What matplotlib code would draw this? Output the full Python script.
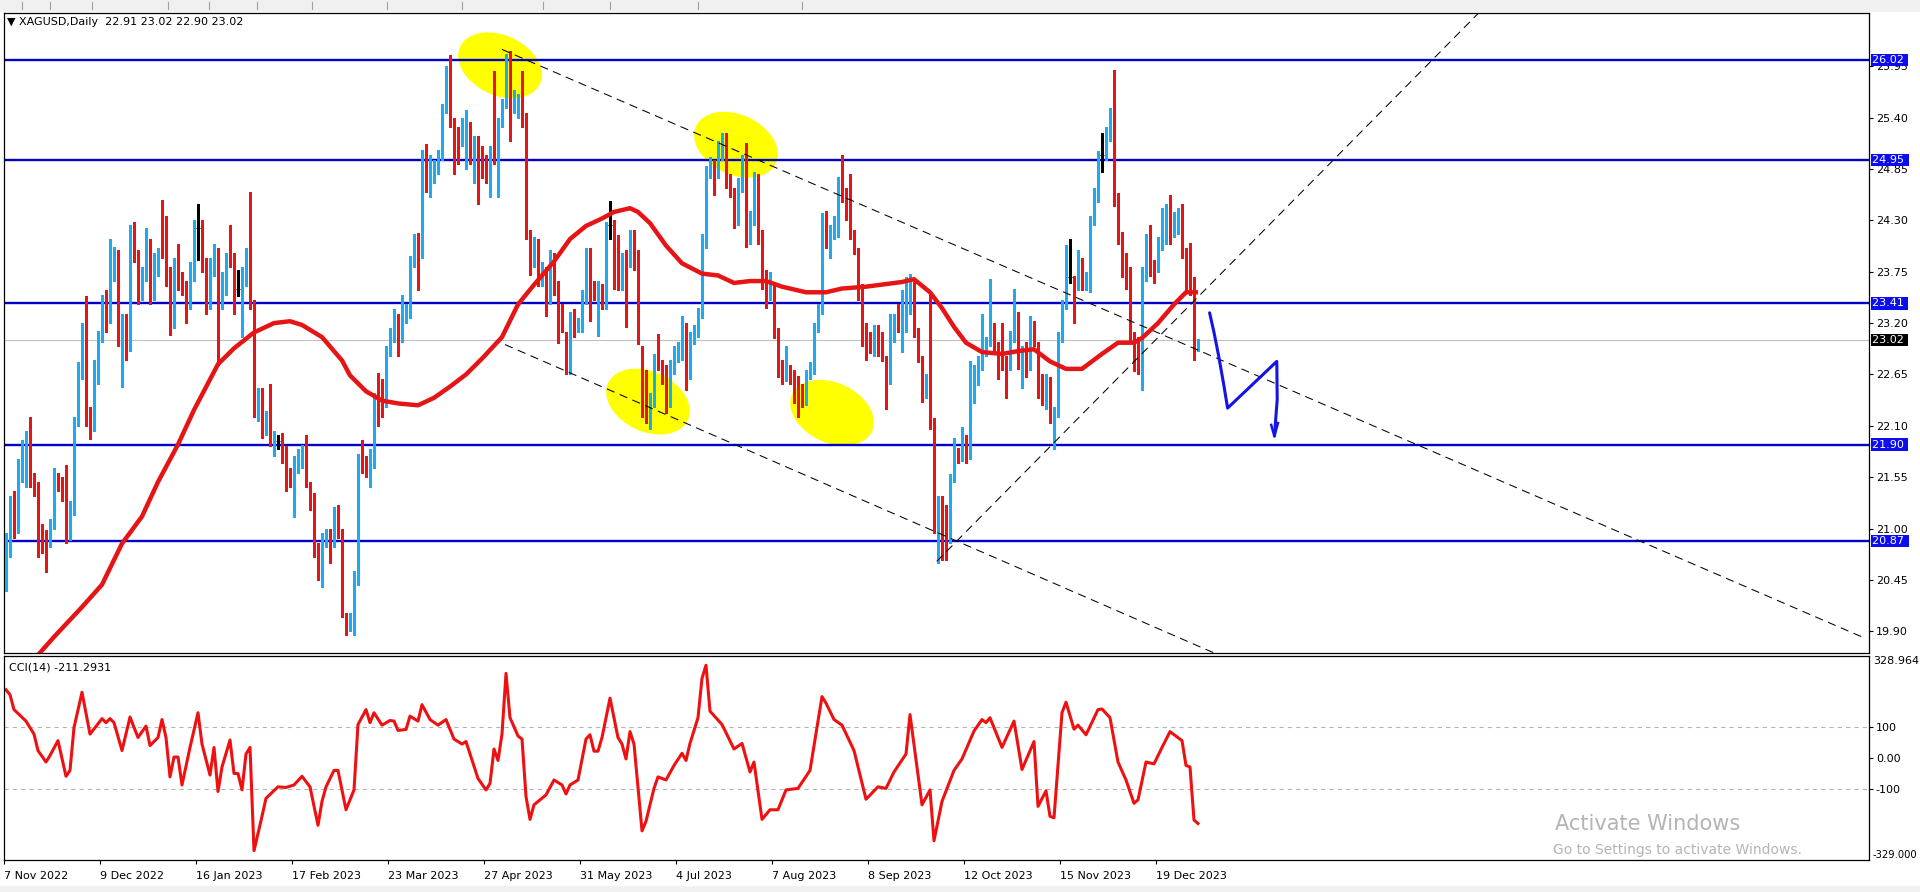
import numpy as np
import matplotlib.pyplot as plt
from matplotlib.patches import Ellipse, Rectangle
from matplotlib import transforms

plt.rcParams['font.family'] = ['DejaVu Sans']
plt.rcParams['lines.scale_dashes'] = False

# daily XAGUSD candles, bar 0 = 7 Nov 2022
opens = [
    20.55, 20.80, 21.30, 20.98, 21.60, 21.55, 21.97, 21.52, 21.46, 20.92,
    20.90, 20.85, 21.05, 21.48, 21.46, 21.40, 20.92, 21.19, 22.17, 22.70,
    23.06, 22.20, 22.13, 22.71, 23.06, 23.40, 23.28, 23.73, 23.90, 23.04,
    23.16, 22.93, 24.12, 23.92, 23.55, 23.70, 24.02, 23.51, 23.86, 24.00,
    23.98, 23.75, 23.22, 23.83, 23.61, 23.57, 23.40, 23.73, 24.22, 24.25,
    23.85, 23.44, 23.81, 23.94, 23.40, 23.57, 23.90, 23.88, 23.57, 23.57,
    23.71, 23.94, 23.40, 22.24, 22.24, 22.08, 22.22, 21.90, 21.94, 21.95,
    21.80, 21.58, 21.54, 21.70,
    21.75, 21.93, 21.46, 21.33, 20.78, 20.60, 20.86, 20.94, 20.86, 21.15,
    20.96, 20.04, 19.98, 20.02, 20.47, 21.76, 21.70, 21.64, 21.68, 22.52,
    22.50, 22.38, 22.91, 23.08, 23.22, 23.05, 23.30, 23.28, 23.88, 24.06,
    23.94, 25.00, 24.90, 24.78, 24.86, 25.00, 25.50, 25.80, 25.27, 25.17,
    25.17, 25.25, 25.25, 25.00, 25.12, 24.96, 24.90, 24.88, 25.06, 24.98,
    25.35, 25.56, 26.05, 25.52, 25.52, 25.56, 25.39, 24.14, 23.86, 24.06,
    23.69, 23.71, 23.47, 23.86, 23.59, 23.30, 23.04, 22.71, 23.26, 23.18,
    23.16, 23.45, 23.84, 23.57, 23.55,
    23.57, 23.40, 24.25, 24.22, 24.02, 23.61, 23.90, 23.86, 24.14, 23.92,
    22.62, 22.62, 22.17, 22.38, 22.81, 22.71, 22.67, 22.54, 22.71, 22.83,
    22.87, 23.10, 22.67, 23.04, 23.10, 23.30, 24.06, 24.84, 24.88, 24.80,
    25.05, 25.13, 24.72, 24.59, 24.31, 24.68, 24.88, 24.10, 24.31, 24.74,
    24.12, 23.65, 23.53, 23.55, 23.10, 22.73, 22.63, 22.69, 22.65, 22.54,
    22.50, 22.38, 22.65, 22.71, 23.16, 23.36, 24.31, 24.10, 24.18, 24.18,
    24.72, 24.55, 24.39, 24.14, 23.94, 23.57, 23.12, 23.04, 22.91, 23.06,
    23.04, 22.79, 22.58, 23.04, 23.22,
    23.18, 23.18, 23.36, 23.61, 23.10, 22.81, 22.50, 22.58, 22.13, 20.98,
    21.13, 21.05, 20.92, 21.54, 21.82, 21.76, 21.97, 21.78, 22.54, 22.69,
    22.75, 22.89, 22.99, 22.99, 22.95, 22.91, 22.79, 22.77, 23.08, 23.28,
    22.79, 22.95, 22.75, 23.18, 22.95, 22.60, 22.48, 22.58, 22.21, 22.26,
    23.04, 23.40, 23.69, 23.63, 23.60, 23.71, 23.61, 23.65, 24.31, 24.57,
    25.00, 25.00, 25.23, 25.43, 24.47, 24.12, 23.86, 23.75, 23.02, 22.99,
    22.75, 23.71, 24.14, 23.81, 23.79, 24.02, 24.10, 24.39, 24.18, 24.20,
    24.22, 23.94, 24.04, 23.55, 22.91,
]
highs = [
    20.95, 21.35, 21.40, 21.75, 21.95, 22.05, 22.20, 21.60, 21.50, 21.05,
    20.98, 21.10, 21.65, 21.60, 21.55, 21.68, 21.30, 22.20, 22.78, 23.20,
    23.49, 22.30, 22.80, 23.12, 23.50, 23.55, 24.10, 24.02, 23.98, 23.30,
    23.30, 24.25, 24.28, 23.98, 23.80, 24.22, 24.10, 23.95, 24.00, 24.52,
    24.35, 23.80, 23.90, 24.05, 23.75, 23.65, 23.85, 24.30, 24.47, 24.30,
    23.90, 23.90, 24.05, 24.00, 23.75, 23.95, 24.25, 23.95, 23.77, 23.80,
    24.00, 24.60, 23.45, 22.50, 22.50, 22.26, 22.55, 22.05, 22.00, 22.02,
    21.88, 21.65, 21.78, 21.85,
    21.90, 22.00, 21.50, 21.38, 20.85, 20.95, 21.00, 21.00, 21.23, 21.25,
    21.00, 20.10, 20.10, 20.55, 21.80, 21.95, 21.78, 21.85, 22.45, 22.67,
    22.60, 22.95, 23.15, 23.35, 23.30, 23.50, 23.40, 23.92, 24.15, 24.16,
    25.05, 25.12, 25.00, 24.95, 25.05, 25.55, 25.95, 26.07, 25.40, 25.30,
    25.40, 25.48, 25.35, 25.20, 25.20, 25.10, 25.00, 25.10, 25.90, 25.40,
    25.60, 26.08, 26.11, 25.70, 25.65, 25.90, 25.45, 24.20, 24.12, 24.10,
    23.85, 23.80, 23.98, 23.95, 23.65, 23.40, 23.10, 23.32, 23.35, 23.25,
    23.55, 24.00, 24.00, 23.65, 23.65,
    23.62, 24.28, 24.51, 24.30, 24.14, 23.95, 23.98, 24.20, 24.20, 23.98,
    22.95, 22.70, 22.45, 22.87, 23.08, 22.80, 22.75, 22.80, 22.95, 23.00,
    23.28, 23.20, 23.10, 23.18, 23.36, 24.15, 24.88, 24.98, 24.95, 25.15,
    25.23, 25.23, 24.80, 24.65, 24.75, 25.00, 25.13, 24.40, 24.82, 24.80,
    24.20, 23.77, 23.75, 23.62, 23.15, 22.80, 22.95, 22.75, 22.70, 22.63,
    22.55, 22.70, 22.78, 23.20, 23.40, 24.38, 24.40, 24.25, 24.35, 24.76,
    25.00, 24.65, 24.80, 24.20, 24.00, 23.62, 23.20, 23.10, 23.18, 23.18,
    23.10, 22.85, 23.30, 23.30, 23.40,
    23.55, 23.69, 23.73, 23.65, 23.15, 22.85, 22.65, 23.50, 22.18, 21.35,
    21.35, 21.25, 21.58, 21.97, 21.86, 22.09, 22.00, 22.79, 22.75, 22.85,
    23.30, 23.05, 23.67, 23.20, 23.00, 23.20, 22.85, 23.12, 23.57, 23.32,
    22.95, 23.00, 23.28, 23.22, 23.00, 22.65, 22.65, 22.62, 22.30, 23.10,
    23.45, 24.04, 24.10, 23.70, 23.98, 23.90, 23.75, 24.35, 24.65, 25.04,
    25.23, 25.30, 25.50, 25.91, 24.59, 24.18, 23.95, 23.80, 23.10, 23.05,
    23.80, 24.15, 24.25, 23.88, 24.12, 24.43, 24.47, 24.57, 24.39, 24.43,
    24.47, 24.00, 24.06, 23.69, 23.02,
]
lows = [
    20.33, 20.70, 20.90, 20.95, 21.50, 21.45, 21.45, 21.35, 20.70, 20.74,
    20.53, 20.80, 21.00, 21.40, 21.30, 20.85, 20.88, 21.15, 22.10, 22.60,
    22.10, 21.96, 22.05, 22.55, 23.00, 23.10, 23.20, 23.65, 22.95, 22.52,
    22.80, 22.90, 23.85, 23.40, 23.45, 23.65, 23.40, 23.45, 23.70, 23.90,
    23.60, 23.07, 23.15, 23.55, 23.50, 23.20, 23.35, 23.65, 23.88, 23.75,
    23.30, 23.35, 23.70, 22.75, 23.35, 23.50, 23.80, 23.30, 23.49, 23.05,
    23.60, 23.35, 22.20, 22.15, 21.97, 22.00, 21.88, 21.78, 21.85, 21.70,
    21.40, 21.45, 21.12, 21.60,
    21.65, 21.45, 21.20, 20.70, 20.45, 20.37, 20.80, 20.63, 20.80, 20.90,
    20.05, 19.86, 19.90, 19.86, 20.40, 21.60, 21.55, 21.44, 21.65, 22.10,
    22.20, 22.30, 22.85, 23.00, 22.85, 23.00, 23.20, 23.25, 23.80, 23.55,
    23.90, 24.60, 24.55, 24.70, 24.80, 24.95, 25.45, 25.30, 24.80, 24.90,
    25.10, 24.85, 24.90, 24.70, 24.47, 24.75, 24.70, 24.55, 24.90, 24.55,
    25.30, 25.50, 25.15, 25.45, 25.40, 25.30, 24.10, 23.71, 23.80, 23.60,
    23.60, 23.28, 23.40, 23.50, 22.99, 23.10, 22.65, 22.65, 23.05, 23.10,
    23.10, 23.40, 23.22, 23.45, 23.06,
    23.35, 23.35, 24.10, 23.57, 23.55, 23.55, 23.16, 23.80, 23.77, 22.98,
    22.20, 22.13, 22.07, 22.30, 22.70, 22.55, 22.24, 22.30, 22.65, 22.78,
    22.80, 22.48, 22.60, 22.98, 23.05, 23.25, 24.00, 24.75, 24.57, 24.75,
    24.95, 24.65, 24.55, 24.22, 24.25, 24.60, 24.02, 24.05, 24.25, 24.05,
    23.57, 23.36, 23.45, 23.04, 22.62, 22.55, 22.58, 22.55, 22.34, 22.20,
    22.30, 22.32, 22.60, 22.65, 23.10, 23.30, 24.00, 23.90, 24.10, 24.12,
    24.50, 24.30, 24.10, 23.94, 23.45, 22.95, 22.81, 22.88, 22.85, 22.85,
    22.79, 22.28, 22.55, 23.00, 23.10,
    22.89, 23.10, 23.30, 23.05, 22.78, 22.36, 22.40, 22.07, 20.95, 20.63,
    20.66, 20.66, 20.85, 21.50, 21.70, 21.72, 21.70, 21.75, 22.34, 22.54,
    22.70, 22.85, 22.95, 22.90, 22.60, 22.70, 22.40, 22.70, 23.00, 22.71,
    22.50, 22.62, 22.70, 22.95, 22.40, 22.32, 22.28, 22.13, 21.85, 22.20,
    23.00, 23.35, 23.63, 23.20, 23.55, 23.55, 23.55, 23.53, 24.25, 24.50,
    24.82, 24.95, 25.15, 24.45, 24.05, 23.69, 23.57, 23.00, 22.69, 22.65,
    22.48, 23.65, 23.70, 23.63, 23.75, 23.98, 24.05, 24.05, 24.12, 24.15,
    23.90, 23.53, 23.50, 22.81, 22.90,
]
closes = [
    20.80, 21.30, 20.98, 21.64, 21.70, 21.97, 21.52, 21.46, 20.90, 20.88,
    20.85, 21.05, 21.48, 21.46, 21.40, 20.92, 21.22, 22.15, 22.73, 23.10,
    22.19, 22.15, 22.71, 23.06, 23.42, 23.28, 23.73, 23.90, 23.04, 23.20,
    22.93, 24.12, 23.94, 23.55, 23.70, 24.02, 23.51, 23.86, 23.90, 23.98,
    23.73, 23.20, 23.80, 23.61, 23.57, 23.40, 23.75, 24.23, 24.22, 23.82,
    23.40, 23.81, 23.92, 23.40, 23.65, 23.90, 23.88, 23.57, 23.57, 23.71,
    23.94, 23.40, 22.30, 22.27, 22.11, 22.18, 21.93, 21.96, 21.94, 21.80,
    21.60, 21.54, 21.70, 21.75,
    21.80, 21.48, 21.35, 20.74, 20.57, 20.86, 20.94, 20.86, 21.19, 20.98,
    20.08, 19.98, 20.02, 20.47, 21.76, 21.66, 21.66, 21.76, 22.38, 22.30,
    22.34, 22.91, 23.08, 23.20, 23.05, 23.30, 23.32, 23.88, 24.06, 23.94,
    25.00, 24.92, 24.97, 24.86, 25.02, 25.50, 25.82, 25.35, 25.00, 25.02,
    25.27, 25.28, 25.05, 25.15, 24.98, 24.86, 24.88, 25.02, 24.96, 25.35,
    25.56, 26.05, 25.62, 25.62, 25.58, 25.37, 24.14, 23.94, 24.06, 23.71,
    23.77, 23.47, 23.82, 23.59, 23.08, 23.16, 22.71, 23.28, 23.12, 23.20,
    23.49, 23.88, 23.55, 23.55, 23.57,
    23.40, 24.22, 24.25, 24.02, 23.61, 23.88, 23.86, 24.16, 23.86, 23.02,
    22.26, 22.17, 22.38, 22.75, 22.75, 22.63, 22.54, 22.73, 22.87, 22.93,
    23.08, 22.67, 23.04, 23.10, 23.30, 24.10, 24.84, 24.90, 24.82, 25.05,
    25.13, 24.72, 24.57, 24.31, 24.68, 24.90, 24.10, 24.31, 24.74, 24.10,
    23.67, 23.53, 23.59, 23.08, 22.73, 22.61, 22.67, 22.63, 22.54, 22.44,
    22.38, 22.65, 22.71, 23.16, 23.36, 24.33, 24.10, 24.18, 24.22, 24.70,
    24.55, 24.39, 24.14, 23.96, 23.57, 22.99, 22.91, 22.93, 23.06, 22.89,
    22.81, 22.60, 23.22, 23.22, 23.16,
    23.36, 23.38, 23.53, 23.10, 22.81, 22.50, 22.58, 22.13, 20.98, 21.13,
    20.94, 20.92, 21.54, 21.84, 21.76, 21.97, 21.76, 22.62, 22.67, 22.77,
    22.89, 22.97, 23.32, 22.93, 22.87, 22.75, 22.73, 23.08, 23.28, 22.83,
    22.91, 22.71, 23.12, 22.99, 22.58, 22.50, 22.60, 22.17, 22.28, 23.04,
    23.40, 23.71, 23.69, 23.40, 23.71, 23.59, 23.69, 24.31, 24.61, 24.96,
    25.00, 25.25, 25.45, 24.47, 24.12, 23.86, 23.75, 23.02, 22.77, 22.73,
    23.75, 24.12, 23.73, 23.75, 24.02, 24.37, 24.39, 24.10, 24.22, 24.24,
    23.94, 23.75, 23.53, 22.95, 23.02,
]

# moving average (bar, value)
ma_bar = [6, 12, 19, 24, 29, 34, 38, 43, 47, 53, 57, 62, 67, 71, 74, 79, 84, 86,
          90, 94, 98, 103, 107, 111, 115, 119, 124, 128, 132, 137, 141, 145, 149,
          152, 156, 158, 161, 165, 169, 174, 178, 182, 186, 190, 194, 200, 205,
          209, 215, 224, 227, 231, 234, 237, 240, 244, 249, 253, 257, 261, 265,
          269, 274, 278, 282, 284, 288, 292, 295, 298]
ma_val = [19.55, 19.84, 20.16, 20.40, 20.84, 21.13, 21.50, 21.90, 22.27, 22.76,
          22.93, 23.10, 23.20, 23.22, 23.18, 23.05, 22.80, 22.64, 22.47, 22.37,
          22.34, 22.32, 22.40, 22.52, 22.65, 22.82, 23.05, 23.40, 23.61, 23.86,
          24.10, 24.24, 24.32, 24.39, 24.43, 24.39, 24.27, 24.03, 23.84, 23.73,
          23.71, 23.63, 23.65, 23.65, 23.59, 23.53, 23.53, 23.57, 23.59, 23.64,
          23.67, 23.53, 23.36, 23.16, 22.99, 22.89, 22.87, 22.90, 22.92, 22.79,
          22.71, 22.71, 22.87, 22.99, 22.99, 23.04, 23.20, 23.40, 23.53, 23.53]

# CCI(14) (bar, value)
cci_bar = [0, 1, 2, 5, 7, 8, 10, 11, 13, 15, 16, 17, 19, 21, 24, 25, 26, 27, 29,
           31, 33, 35, 36, 38, 39, 40, 41, 42, 43, 44, 46, 48, 49, 51, 52, 53, 54,
           56, 57, 58, 59, 60, 61, 62, 64, 65, 68, 70, 72, 74, 76, 78, 79, 80, 82,
           83, 85, 87, 88, 90, 91, 92, 94, 96, 97, 98, 100, 101, 103, 104, 106,
           108, 110, 112, 114, 115, 118, 120, 121, 122, 123, 124, 125, 126, 128,
           129, 130, 131, 132, 135, 137, 139, 140, 141, 143, 145, 146, 147, 148,
           149, 151, 153, 154, 155, 156, 157, 159, 160, 162, 163, 165, 167, 169,
           170, 171, 173, 174, 175, 176, 179, 182, 184, 186, 187, 189, 191, 193,
           195, 198, 201, 204, 205, 207, 209, 212, 215, 218, 220, 222, 225, 226,
           229, 231, 232, 234, 237, 239, 242, 244, 245, 246, 249, 252, 254, 257,
           258, 260, 261, 262, 264, 265, 267, 268, 270, 273, 274, 276, 278, 280,
           282, 283, 285, 287, 289, 291, 294, 295, 296, 297, 298]
cci_val = [220, 204, 156, 119, 77, 24, -13, 8, 56, -59, -40, 98, 212, 77, 127,
           114, 127, 114, 24, 132, 66, 103, 40, 66, 124, 66, -61, 3, 3, -87, 34,
           146, 45, -55, 34, -108, -29, 58, -50, -50, -103, 13, 34, -299, -188,
           -130, -93, -95, -87, -59, -93, -217, -140, -93, -40, -40, -167, -103,
           108, 156, 114, 146, 106, 121, 119, 89, 92, 135, 119, 172, 124, 106,
           124, 61, 45, 53, -66, -103, -82, 29, -8, 77, 273, 130, 71, 61, -124,
           -198, -151, -119, -71, -87, -116, -87, -71, 61, 75, 22, 22, 66, 193,
           66, 45, -3, 85, 45, -235, -204, -98, -61, -71, -24, 15, -8, 47, 130,
           257, 299, 151, 108, 29, 47, -45, -13, -198, -167, -167, -103, -98, -40,
           198, 177, 124, 106, 24, -133, -93, -98, -45, 13, 140, -151, -103, -267,
           -140, -40, -3, 87, 124, 114, 130, 34, 119, -37, 53, -156, -106, -188,
           -193, 146, 180, 93, 106, 75, 156, 158, 130, -13, -71, -146, -135, -13,
           -19, 34, 85, 56, -24, -29, -200, -211.2931]

date_bars = [0, 24, 48, 72, 96, 120, 144, 168, 192, 216, 240, 264, 288]
date_labels = ['7 Nov 2022', '9 Dec 2022', '16 Jan 2023', '17 Feb 2023',
               '23 Mar 2023', '27 Apr 2023', '31 May 2023', '4 Jul 2023',
               '7 Aug 2023', '8 Sep 2023', '12 Oct 2023', '15 Nov 2023',
               '19 Dec 2023']

levels = [26.02, 24.95, 23.41, 21.90, 20.87]
last_price = 23.02
price_ticks = [19.90, 20.45, 21.00, 21.55, 22.10, 22.65, 23.20, 23.75, 24.30,
               24.85, 25.40, 25.95]

# drawn objects, anchors as (bar, price)
upper_bar, upper_price = [124, 464], [26.13, 19.84]
lower_bar, lower_price = [124.75, 310], [22.97, 19.52]
rise_bar, rise_price = [232.7, 370], [20.65, 26.60]
zone_bar = [123.5, 182.5, 160.5, 206.5]
zone_price = [25.96, 25.11, 22.36, 22.24]
sketch_bar = [300.9, 302.0, 303.2, 304.4, 305.4, 317.7, 317.8, 317.1]
sketch_price = [23.31, 23.10, 22.84, 22.55, 22.29, 22.79, 22.38, 21.99]
head_bar = [316.3, 317.1, 318.0]
head_price = [22.11, 21.99, 22.13]

BULL = '#1eaaf0'
BEAR = '#e61414'
LEVEL = '#0000c8'

W, H = 1920, 892
fig = plt.figure(figsize=(W / 100, H / 100), dpi=100)


def fx(x):
    return x / W


def fy(y):
    return 1 - y / H


# window chrome
fig.add_artist(Rectangle((0, fy(12)), 1, 12 / H, transform=fig.transFigure,
                         fc='#f0f0f0', ec='none'))
for sx in [22, 50, 92, 168, 209, 257, 312, 387, 462, 543, 610, 698, 802]:
    fig.add_artist(plt.Line2D([fx(sx), fx(sx)], [fy(9), fy(2)], color='#a0a0a0',
                              lw=0.8, transform=fig.transFigure))
fig.add_artist(Rectangle((0, 0), 1, 6 / H, transform=fig.transFigure,
                         fc='#f0f0f0', ec='none'))

ax = fig.add_axes([fx(4), fy(653), fx(1869) - fx(4), fy(13) - fy(653)])
cx = fig.add_axes([fx(4), fy(860), fx(1869) - fx(4), fy(656) - fy(860)])

o = np.array(opens)
h = np.array(highs)
l = np.array(lows)
c = np.array(closes)
idx = np.arange(len(c))
up = c > o
dn = c < o
dj = c == o

ax.axhline(last_price, color='#c0c0c0', lw=0.8, zorder=1.5)
for lv in levels:
    ax.axhline(lv, color=LEVEL, lw=1.7, zorder=2)

for b, p in zip(zone_bar, zone_price):
    tr = fig.dpi_scale_trans + transforms.ScaledTranslation(b, p, ax.transData)
    ax.add_patch(Ellipse((0, 0), 0.88, 0.60, angle=-25, transform=tr,
                         fc='#ffff00', ec='none', zorder=1))

for m, col in [(up, BULL), (dn, BEAR)]:
    ax.vlines(idx[m], l[m], h[m], color=col, lw=0.75, zorder=3, antialiased=False)
    ax.bar(idx[m], np.abs(c[m] - o[m]) + 0.012, bottom=np.minimum(o[m], c[m]),
           width=0.75, color=col, lw=0, zorder=3, antialiased=False)
ax.vlines(idx[dj], l[dj], h[dj], color='black', lw=0.75, zorder=3, antialiased=False)
ax.hlines(c[dj], idx[dj] - 0.5, idx[dj] + 0.5, color='black', lw=0.75, zorder=3)

for bx, py in [(upper_bar, upper_price), (lower_bar, lower_price), (rise_bar, rise_price)]:
    ax.plot(bx, py, color='black', lw=0.75, dashes=(6, 4), zorder=3.5)

ax.plot(ma_bar, ma_val, color=BEAR, lw=3.2, zorder=4, solid_capstyle='butt',
        solid_joinstyle='round')
ax.plot(sketch_bar, sketch_price, color='#1414e6', lw=2.2, zorder=5,
        solid_joinstyle='round', solid_capstyle='round')
ax.plot(head_bar, head_price, color='#1414e6', lw=1.8, zorder=5)

ax.set_xlim(-0.5, 465.75)
ax.set_ylim(19.668, 26.52)
ax.yaxis.tick_right()
ax.set_yticks(price_ticks)
ax.set_yticklabels([f'{t:.2f}' for t in price_ticks])
ax.tick_params(axis='y', length=3, width=0.8, pad=2, labelsize=8)
ax.tick_params(axis='x', bottom=False, labelbottom=False)

ytr = transforms.blended_transform_factory(ax.transAxes, ax.transData)
for lv in levels:
    ax.annotate(f'{lv:.2f} ', xy=(1, lv), xycoords=ytr, xytext=(3, 0),
                textcoords='offset pixels', ha='left', va='center', fontsize=8,
                color='white', zorder=10, annotation_clip=False,
                bbox=dict(boxstyle='square,pad=0.1', fc='#0c0cf0', ec='none'))
ax.annotate(f'{last_price:.2f} ', xy=(1, last_price), xycoords=ytr, xytext=(3, 0),
            textcoords='offset pixels', ha='left', va='center', fontsize=8,
            color='white', zorder=10, annotation_clip=False,
            bbox=dict(boxstyle='square,pad=0.1', fc='black', ec='none'))

# CCI panel
cx.axhline(100, color='#b4b4b4', lw=0.8, dashes=(3, 3))
cx.axhline(-100, color='#b4b4b4', lw=0.8, dashes=(3, 3))
cx.plot(cci_bar, cci_val, color='#ee1111', lw=2.2, solid_joinstyle='round')
cx.set_xlim(-0.5, 465.75)
cx.set_ylim(-329.0, 328.964)
cx.yaxis.tick_right()
cx.set_yticks([-100, 0, 100])
cx.set_yticklabels(['-100', '0.00', '100'])
cx.tick_params(axis='y', length=3, width=0.8, pad=2, labelsize=8)
cx.set_xticks([b - 0.5 for b in date_bars])
cx.set_xticklabels(date_labels, ha='left')
cx.tick_params(axis='x', length=3, width=0.8, pad=5, labelsize=8)
ctr = transforms.blended_transform_factory(cx.transAxes, cx.transData)
cx.text(1.002, 328.964, '328.964', transform=ctr, ha='left', va='top',
        fontsize=8, clip_on=False)
cx.text(1.002, -329.0, '-329.000', transform=ctr, ha='left', va='bottom',
        fontsize=7.2, clip_on=False)

for a in (ax, cx):
    for s in a.spines.values():
        s.set_linewidth(0.9)
        s.set_color('black')

fig.text(fx(7), fy(22), '\u25bc XAGUSD,Daily  22.91 23.02 22.90 23.02',
         fontsize=8, va='center', ha='left')
fig.text(fx(9), fy(667), 'CCI(14) -211.2931', fontsize=8, va='center', ha='left')
fig.text(fx(1555), fy(824), 'Activate Windows', fontsize=15, color='#b4b4b4',
         va='center', ha='left')
fig.text(fx(1553), fy(850), 'Go to Settings to activate Windows.', fontsize=10,
         color='#b4b4b4', va='center', ha='left')

fig.savefig('out.png', dpi=100)
